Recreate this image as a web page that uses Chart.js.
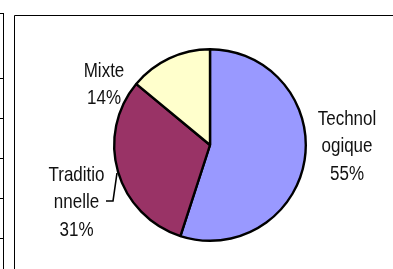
<!DOCTYPE html>
<html>
<head>
<meta charset="utf-8">
<script src="https://cdn.jsdelivr.net/npm/chart.js@4/dist/chart.umd.min.js"></script>
<style>
  html, body { margin: 0; padding: 0; background: #fff; }
  canvas { display: block; }
</style>
</head>
<body>
<canvas id="myChart" width="393" height="269"></canvas>
<script>
// data
const categories = ["Technologique", "Traditionnelle", "Mixte"];
const labelLines = [["Technol", "ogique"], ["Traditio", "nnelle"], ["Mixte"]];
const shares = [55, 31, 14];
const sliceColors = ["#9999FF", "#993366", "#FFFFCC"];

// label block: centre x and first baseline, relative to the pie centre
const labelOffsets = [[137, -20], [-133.5, 36], [-106, -68]];

const frame = {
    id: "frame",
    beforeDraw(chart) {
        const c = chart.ctx;
        c.save();
        c.strokeStyle = "#000";
        c.lineWidth = 1;
        c.beginPath();
        // bits of the table on the left
        c.moveTo(3.5, 13);
        c.lineTo(3.5, 269);
        [13.5, 78.5, 118.5, 158.5, 198.5, 238.5].forEach(function (y) {
            c.moveTo(0, y);
            c.lineTo(4, y);
        });
        // chart frame
        c.moveTo(14.5, 269);
        c.lineTo(14.5, 15.5);
        c.lineTo(393, 15.5);
        c.stroke();
        c.restore();
    }
};

const pieLabels = {
    id: "pieLabels",
    afterDraw(chart) {
        const c = chart.ctx;
        const arcs = chart.getDatasetMeta(0).data;
        const sy = 1.17;   // the reference text is tall and narrow
        const lh = 27.5;
        c.save();
        c.font = "17px 'Liberation Sans', Arial, sans-serif";
        c.fillStyle = "#111";
        c.textAlign = "center";
        c.textBaseline = "alphabetic";
        arcs.forEach(function (arc, i) {
            const lines = labelLines[i].concat([shares[i] + "%"]);
            const cx = arc.x + labelOffsets[i][0];
            const y0 = arc.y + labelOffsets[i][1];
            lines.forEach(function (t, k) {
                c.save();
                c.scale(1, sy);
                c.fillText(t, cx, (y0 + k * lh) / sy);
                c.restore();
            });
        });
        // leader line for Traditionnelle
        const a = arcs[1];
        c.strokeStyle = "#000";
        c.lineWidth = 1.6;
        c.beginPath();
        c.moveTo(a.x - 104, a.y + 56);
        c.lineTo(a.x - 97, a.y + 56);
        c.lineTo(a.x - 93, a.y + 28);
        c.stroke();
        c.restore();
    }
};

new Chart(document.getElementById("myChart"), {
    type: "pie",
    data: {
        labels: categories,
        datasets: [{
            data: shares,
            backgroundColor: sliceColors,
            borderColor: "#000",
            borderWidth: 2.4,
            radius: 95.8
        }]
    },
    options: {
        responsive: false,
        animation: false,
        layout: { padding: { left: 60, right: 33, top: 41, bottom: 20 } },
        plugins: {
            legend: { display: false },
            tooltip: { enabled: false }
        }
    },
    plugins: [frame, pieLabels]
});
</script>
</body>
</html>
